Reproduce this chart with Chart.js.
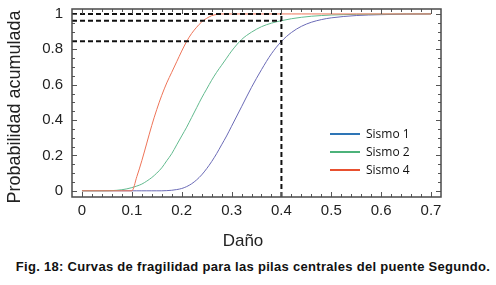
<!DOCTYPE html>
<html>
<head>
<meta charset="utf-8">
<title>Curvas de fragilidad</title>
<style>
  body { margin: 0; background: #fff; width: 496px; height: 285px; overflow: hidden; }
  #wrap { position: absolute; left: 0; top: 0; width: 496px; height: 255px; }
  #caption {
    position: absolute; left: 5px; top: 259px; width: 496px; text-align: center;
    font: bold 13px "Liberation Sans", Arial, sans-serif; letter-spacing: 0.3px;
    color: #111; white-space: nowrap;
  }
</style>
</head>
<body>
<div id="wrap"><canvas id="myChart"></canvas></div>
<div id="caption">Fig. 18: Curvas de fragilidad para las pilas centrales del puente Segundo.</div>

<script src="https://cdn.jsdelivr.net/npm/chart.js@4.4.0/dist/chart.umd.min.js"></script>
<script>
// datos
const dano   = [0, 0.04, 0.08, 0.10, 0.11, 0.12, 0.13, 0.14, 0.15, 0.16, 0.17, 0.18, 0.19, 0.20,
                0.21, 0.22, 0.23, 0.24, 0.25, 0.26, 0.27, 0.28, 0.29, 0.30, 0.32, 0.34, 0.36, 0.38,
                0.40, 0.42, 0.44, 0.46, 0.48, 0.50, 0.55, 0.60, 0.65, 0.70];
const sismo1 = [0, 0, 0, 0, 0, 0, 0, 0, 0, 0, 0.001, 0.003, 0.007, 0.013,
                0.024, 0.04, 0.062, 0.09, 0.125, 0.165, 0.21, 0.26, 0.31, 0.365, 0.475, 0.585, 0.685, 0.775,
                0.845, 0.895, 0.93, 0.953, 0.968, 0.978, 0.991, 0.996, 0.999, 1];
const sismo2 = [0, 0, 0.006, 0.018, 0.027, 0.038, 0.055, 0.075, 0.1, 0.13, 0.17, 0.21, 0.26, 0.31,
                0.36, 0.415, 0.47, 0.525, 0.575, 0.625, 0.67, 0.71, 0.75, 0.79, 0.855, 0.897, 0.928, 0.948,
                0.962, 0.973, 0.981, 0.987, 0.991, 0.994, 0.998, 0.999, 1, 1];
const sismo4 = [0, 0, 0, 0, 0.08, 0.17, 0.27, 0.37, 0.46, 0.54, 0.61, 0.67, 0.73, 0.79,
                0.845, 0.89, 0.925, 0.955, 0.975, 0.99, 0.997, 1, 1, 1, 1, 1, 1, 1,
                1, 1, 1, 1, 1, 1, 1, 1, 1, 1];

const danoRef = 0.4;
const probRef = [1, 0.962, 0.845];

const xTicks = [0, 0.1, 0.2, 0.3, 0.4, 0.5, 0.6, 0.7];
const yTicks = [0, 0.2, 0.4, 0.6, 0.8, 1];

const X_MIN = -0.02, X_MAX = 0.72, Y_MIN = -0.035, Y_MAX = 1.028;

const leyenda = ['Sismo 1', 'Sismo 2', 'Sismo 4'];
const colLeyenda = ['#2e75b6', '#4cb27a', '#e8502f'];
const colCurva = ['#6a6ab6', '#62ba8e', '#ee7458'];

const pts = arr => arr.map((y, i) => ({x: dano[i], y: y}));

const dashed = {borderColor: '#111', borderWidth: 2, borderDash: [5, 3], pointRadius: 0, fill: false, tension: 0};

let datasets = [];
datasets.push(Object.assign({data: [{x: danoRef, y: Y_MIN}, {x: danoRef, y: probRef[0]}]}, dashed));
probRef.forEach(p => {
  datasets.push(Object.assign({data: [{x: X_MIN, y: p}, {x: danoRef, y: p}]}, dashed));
});
[sismo4, sismo2, sismo1].forEach((s, k) => {
  let idx = 2 - k;
  datasets.push({
    label: leyenda[idx],
    data: pts(s),
    borderColor: colCurva[idx],
    borderWidth: 1,
    pointRadius: 0,
    fill: false,
    cubicInterpolationMode: 'monotone'
  });
});

// marco, ticks hacia adentro, titulos y leyenda
const marco = {
  id: 'marco',
  afterDraw(chart) {
    const ctx = chart.ctx;
    const a = chart.chartArea;
    const sx = chart.scales.x, sy = chart.scales.y;
    ctx.save();
    ctx.strokeStyle = '#555';
    ctx.lineWidth = 1;
    ctx.beginPath();
    for (let i = 0; i <= 35; i++) {
      let v = i * 0.02;
      let px = Math.round(sx.getPixelForValue(v)) + 0.5;
      let len = (i % 5 === 0) ? 5 : 3;
      ctx.moveTo(px, a.bottom); ctx.lineTo(px, a.bottom - len);
      ctx.moveTo(px, a.top); ctx.lineTo(px, a.top + len);
    }
    for (let i = 0; i <= 20; i++) {
      let v = i * 0.05;
      let py = Math.round(sy.getPixelForValue(v)) + 0.5;
      let len = (i % 4 === 0) ? 5 : 3;
      ctx.moveTo(a.left, py); ctx.lineTo(a.left + len, py);
      ctx.moveTo(a.right, py); ctx.lineTo(a.right - len, py);
    }
    ctx.stroke();
    ctx.lineWidth = 1.5;
    ctx.strokeStyle = '#4a4a4a';
    ctx.strokeRect(a.left, a.top, a.right - a.left, a.bottom - a.top);

    // titulos de ejes
    ctx.fillStyle = '#222';
    ctx.font = '17px "Liberation Sans", Arial, sans-serif';
    ctx.textAlign = 'center';
    ctx.textBaseline = 'middle';
    ctx.fillText('Daño', 243, 241);
    ctx.translate(15, 107);
    ctx.rotate(-Math.PI / 2);
    ctx.font = '18px "Liberation Sans", Arial, sans-serif';
    ctx.fillText('Probabilidad acumulada', 0, 0);
    ctx.setTransform(1, 0, 0, 1, 0, 0);

    // leyenda
    ctx.font = '12px "Open Sans", sans-serif';
    ctx.textAlign = 'left';
    ctx.lineWidth = 2;
    const ly = [134, 152, 170];
    leyenda.forEach((t, i) => {
      ctx.strokeStyle = colLeyenda[i];
      ctx.beginPath();
      ctx.moveTo(330, ly[i]); ctx.lineTo(360, ly[i]);
      ctx.stroke();
      ctx.fillStyle = '#111';
      ctx.fillText(t, 366, ly[i] + 1);
    });
    ctx.restore();
  }
};

const ctx = document.getElementById('myChart').getContext('2d');
const chart = new Chart(ctx, {
  type: 'line',
  data: {datasets: datasets},
  options: {
    responsive: true,
    maintainAspectRatio: false,
    animation: false,
    layout: {padding: {left: 0, right: 55, top: 9, bottom: 0}},
    plugins: {legend: {display: false}, tooltip: {enabled: false}},
    scales: {
      x: {
        type: 'linear', min: X_MIN, max: X_MAX,
        grid: {display: false, drawTicks: false},
        border: {display: false},
        afterBuildTicks: s => { s.ticks = xTicks.map(v => ({value: v})); },
        afterFit: s => { s.height = 58; s.paddingLeft = 0; s.paddingRight = 0; },
        ticks: {
          padding: 5, color: '#222', maxRotation: 0, autoSkip: false,
          font: {family: '"Liberation Sans", Arial, sans-serif', size: 15},
          callback: v => String(v)
        }
      },
      y: {
        type: 'linear', min: Y_MIN, max: Y_MAX,
        grid: {display: false, drawTicks: false},
        border: {display: false},
        afterBuildTicks: s => { s.ticks = yTicks.map(v => ({value: v})); },
        afterFit: s => { s.width = 72; s.paddingTop = 0; s.paddingBottom = 0; },
        ticks: {
          padding: 9, color: '#222', autoSkip: false,
          font: {family: '"Liberation Sans", Arial, sans-serif', size: 15},
          callback: v => String(v)
        }
      }
    }
  },
  plugins: [marco]
});
</script>
</body>
</html>
